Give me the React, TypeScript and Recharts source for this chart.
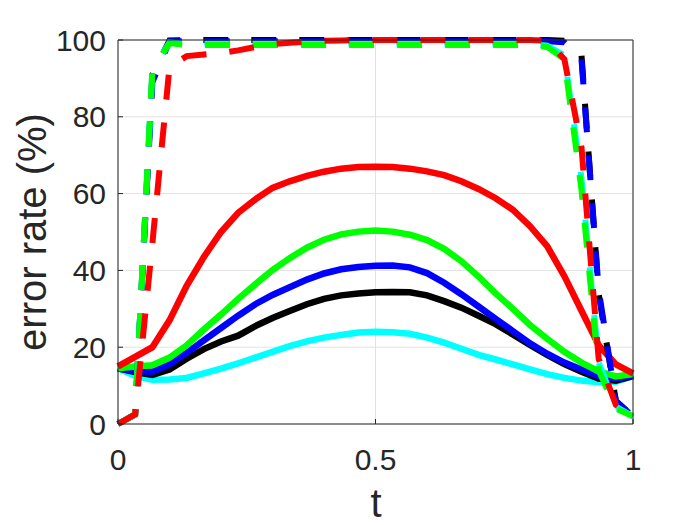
import React from 'react';
import { LineChart, Line, XAxis, YAxis, CartesianGrid } from 'recharts';

// sample points along t
const T = [
  0, 0.0333, 0.0667, 0.1, 0.1333, 0.1667, 0.2, 0.2333, 0.2667, 0.3, 0.3333,
  0.3667, 0.4, 0.4333, 0.4667, 0.5, 0.5333, 0.5667, 0.6, 0.6333, 0.6667,
  0.7, 0.7333, 0.7667, 0.8, 0.8333, 0.8667, 0.9, 0.9333, 0.9667, 1,
];

// solid curves
const redSolid = [15, 17.5, 20, 27, 36, 43.5, 50, 55, 58.5, 61.5, 63.2, 64.6, 65.7, 66.5, 66.9, 67, 66.9, 66.5, 65.8, 64.8, 63.2, 61.2, 58.8, 55.8, 51.5, 46.3, 38.5, 29.5, 20.5, 15.5, 13.2];
const greenSolid = [14.5, 15, 15.3, 17.3, 20.5, 24.6, 28.5, 32.6, 36.4, 40.1, 43.2, 45.9, 48, 49.4, 50.1, 50.4, 50.1, 49.3, 47.9, 45.6, 42.4, 38.4, 34, 30, 25.8, 22.2, 18.8, 16, 13.7, 12.4, 13];
const blueSolid = [14.5, 13.8, 13.6, 15.5, 18.5, 21.8, 25, 28.2, 31.2, 33.6, 35.6, 37.6, 39.2, 40.3, 40.9, 41.2, 41.3, 40.8, 39.3, 36.8, 33.8, 30.6, 27.4, 24.2, 21, 18.3, 16, 14.2, 12.5, 11.8, 12.6];
const blackSolid = [14.5, 13.5, 12.8, 14.2, 17, 19.5, 21.5, 23, 25.5, 27.6, 29.4, 31.2, 32.6, 33.5, 34, 34.3, 34.4, 34.3, 33.5, 32, 30.3, 28.2, 26, 23.3, 20.6, 18, 15.6, 13.6, 11.8, 11.3, 12.5];
const cyanSolid = [14.5, 12.5, 11.5, 11.6, 12, 13.2, 14.4, 15.8, 17.3, 18.8, 20.3, 21.5, 22.5, 23.2, 23.8, 24, 23.9, 23.5, 22.5, 21.2, 19.6, 18, 16.8, 15.5, 14.2, 13, 12, 11.3, 10.9, 11, 12.5];

// dashed curves
const blackDash = [0, 2.5, 91, 99.9, 100, 100, 100, 100, 100, 100, 100, 100, 100, 100, 100, 100, 100, 100, 100, 100, 100, 100, 100, 100, 100, 100, 99.8, 96, 34, 6, 2];
const blueDash = [0, 2.5, 89, 99.7, 99.7, 99.7, 99.7, 99.7, 99.7, 99.7, 99.7, 99.7, 99.7, 99.7, 99.7, 99.7, 99.7, 99.7, 99.7, 99.7, 99.7, 99.7, 99.7, 99.7, 99.7, 99.7, 99.4, 95, 35, 6, 2];
const cyanDash = [0, 2.5, 92, 99.4, 99, 99, 99, 99, 99, 99, 99, 99, 99, 99, 99, 99, 99, 99, 99, 99, 99, 99, 99, 99, 99, 98.5, 96, 64, 16, 4.5, 2];
const greenDash = [0, 2.5, 92, 99.2, 98.7, 98.7, 98.7, 98.7, 98.7, 98.7, 98.7, 98.7, 98.7, 98.7, 98.7, 98.7, 98.7, 98.7, 98.7, 98.7, 98.7, 98.7, 98.7, 98.7, 98.7, 98.2, 95, 61, 14, 4, 2];
const redDash = [0, 2.5, 47, 93, 95.8, 96.2, 96.6, 97.3, 98.2, 98.9, 99.3, 99.6, 99.8, 99.9, 100, 100, 100, 100, 100, 100, 100, 100, 100, 100, 100, 99.8, 95, 72, 17, 5, 2];

const xTicks = [0, 0.5, 1];
const yTicks = [0, 20, 40, 60, 80, 100];

const data = T.map((t, i) => ({
  t,
  redSolid: redSolid[i],
  greenSolid: greenSolid[i],
  blueSolid: blueSolid[i],
  blackSolid: blackSolid[i],
  cyanSolid: cyanSolid[i],
  blackDash: blackDash[i],
  blueDash: blueDash[i],
  cyanDash: cyanDash[i],
  greenDash: greenDash[i],
  redDash: redDash[i],
}));

const FONT = '"Liberation Sans", Arial, Helvetica, sans-serif';
const AXIS = '#262626';

// drawing order: first is at the bottom
const series = [
  { key: 'cyanSolid', color: '#00ffff', dash: false },
  { key: 'blackSolid', color: '#000000', dash: false },
  { key: 'blueSolid', color: '#0000ff', dash: false },
  { key: 'greenSolid', color: '#00ff00', dash: false },
  { key: 'redSolid', color: '#ff0000', dash: false },
  { key: 'blackDash', color: '#000000', dash: true },
  { key: 'blueDash', color: '#0000ff', dash: true },
  { key: 'cyanDash', color: '#00ffff', dash: true },
  { key: 'greenDash', color: '#00ff00', dash: true },
  { key: 'redDash', color: '#ff0000', dash: true },
];

const tickStyle = { fill: AXIS, fontSize: 30, fontFamily: FONT };

const YTitle = () => (
  <text
    x={46}
    y={232}
    transform="rotate(-90 46 232)"
    textAnchor="middle"
    fontSize={40}
    fontFamily={FONT}
    fill={AXIS}
  >
    error rate (%)
  </text>
);

const XTitle = () => (
  <text x={376} y={517} textAnchor="middle" fontSize={40} fontFamily={FONT} fill={AXIS}>
    t
  </text>
);

export default function App() {
  return (
    <div style={{ position: 'absolute', left: 0, top: 0, background: '#fff' }}>
      <LineChart width={700} height={525} data={data} margin={{ top: 39, right: 66, bottom: 0, left: 0 }}>
        <CartesianGrid stroke="#e2e2e2" strokeWidth={1} />
        <XAxis
          dataKey="t"
          type="number"
          domain={[0, 1]}
          ticks={xTicks}
          interval={0}
          height={101}
          tick={tickStyle}
          tickSize={-5}
          tickMargin={30}
          axisLine={{ stroke: AXIS }}
          tickLine={{ stroke: AXIS }}
          label={<XTitle />}
        />
        <XAxis
          xAxisId="top"
          orientation="top"
          dataKey="t"
          type="number"
          domain={[0, 1]}
          ticks={xTicks}
          interval={0}
          height={1}
          tick={false}
          tickSize={-5}
          axisLine={{ stroke: AXIS }}
          tickLine={{ stroke: AXIS }}
        />
        <YAxis
          type="number"
          domain={[0, 100]}
          ticks={yTicks}
          interval={0}
          width={118}
          tick={tickStyle}
          tickSize={-5}
          tickMargin={17}
          axisLine={{ stroke: AXIS }}
          tickLine={{ stroke: AXIS }}
          label={<YTitle />}
        />
        <YAxis
          yAxisId="right"
          orientation="right"
          type="number"
          domain={[0, 100]}
          ticks={yTicks}
          interval={0}
          width={1}
          tick={false}
          tickSize={-5}
          axisLine={{ stroke: AXIS }}
          tickLine={{ stroke: AXIS }}
        />
        {series.map((s) => (
          <Line
            key={s.key}
            type="linear"
            dataKey={s.key}
            stroke={s.color}
            strokeWidth={s.dash ? 6 : 6.5}
            strokeDasharray={s.dash ? '25 23' : undefined}
            dot={false}
            activeDot={false}
            isAnimationActive={false}
          />
        ))}
      </LineChart>
    </div>
  );
}
